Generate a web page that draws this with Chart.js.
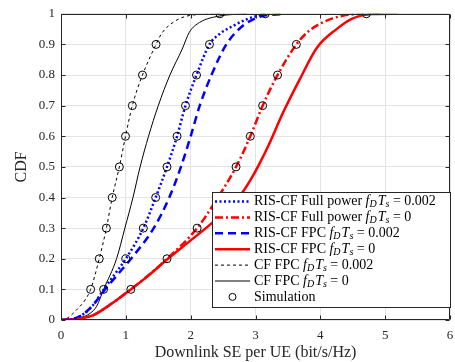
<!DOCTYPE html>
<html lang="en">
<head>
<meta charset="UTF-8" />
<title>Downlink SE CDF</title>
<script src="https://cdn.jsdelivr.net/npm/chart.js"></script>
<style>
  html, body { margin: 0; padding: 0; background: #fff; }
</style>
</head>
<body>
<canvas id="cdfChart" width="455" height="362"></canvas>
<script>
  // CDF levels where the simulated points were taken
  const cdfLevels = [0.1, 0.2, 0.3, 0.4, 0.5, 0.6, 0.7, 0.8, 0.9, 1.0];

  // analytical curves: SE values (x) and CDF values (y)
  const risFull002X = [0, 0.2, 0.35, 0.5, 0.66, 0.83, 1.0, 1.27, 1.46, 1.635, 1.79, 1.92, 2.09, 2.29, 2.45, 2.65, 2.86, 3.15];
  const risFull002Y = [0, 0.004, 0.02, 0.05, 0.1, 0.15, 0.2, 0.3, 0.4, 0.5, 0.6, 0.7, 0.8, 0.9, 0.935, 0.96, 0.982, 1.0];

  const risFull0X = [0, 0.25, 0.5, 0.75, 1.077, 1.32, 1.635, 2.1, 2.42, 2.7, 2.92, 3.11, 3.34, 3.63, 3.83, 4.19, 4.71, 4.95];
  const risFull0Y = [0, 0.003, 0.016, 0.049, 0.1, 0.141, 0.2, 0.3, 0.4, 0.5, 0.6, 0.7, 0.8, 0.9, 0.945, 0.985, 1.0, 1.0];

  const risFpc002X = [0, 0.2, 0.35, 0.5, 0.68, 0.9, 1.08, 1.43, 1.67, 1.85, 2.0, 2.14, 2.32, 2.55, 2.8, 3.06, 3.45];
  const risFpc002Y = [0, 0.004, 0.02, 0.05, 0.1, 0.155, 0.2, 0.3, 0.4, 0.5, 0.6, 0.7, 0.8, 0.9, 0.96, 0.99, 1.0];

  const risFpc0X = [0, 0.25, 0.5, 0.75, 1.077, 1.32, 1.65, 2.0, 2.29, 2.55, 2.8, 2.93, 3.06, 3.2, 3.42, 3.68, 3.95, 4.25, 4.5, 4.8, 5.19];
  const risFpc0Y = [0, 0.003, 0.016, 0.049, 0.1, 0.14, 0.2, 0.26, 0.31, 0.36, 0.417, 0.46, 0.51, 0.57, 0.675, 0.785, 0.89, 0.95, 0.985, 0.999, 1.0];

  const cfFpc002X = [0, 0.09, 0.24, 0.37, 0.457, 0.59, 0.7, 0.79, 0.9, 0.995, 1.1, 1.257, 1.466, 1.55, 1.75, 2.0, 2.45];
  const cfFpc002Y = [0, 0.005, 0.033, 0.065, 0.1, 0.2, 0.3, 0.4, 0.5, 0.6, 0.7, 0.8, 0.9, 0.935, 0.975, 0.995, 1.0];

  const cfFpc0X = [0, 0.3, 0.45, 0.55, 0.657, 0.857, 0.985, 1.11, 1.22, 1.35, 1.5, 1.68, 1.87, 1.98, 2.14, 2.45, 2.86];
  const cfFpc0Y = [0, 0.008, 0.022, 0.045, 0.1, 0.2, 0.3, 0.4, 0.5, 0.6, 0.7, 0.8, 0.885, 0.94, 0.972, 0.993, 1.0];

  // Monte-Carlo SE values at each CDF level
  const simCfFpc002 = [0.457, 0.59, 0.70, 0.79, 0.90, 0.995, 1.10, 1.257, 1.466, 2.45];
  const simRisFull002 = [0.657, 1.0, 1.27, 1.46, 1.635, 1.79, 1.92, 2.09, 2.29, 3.15];
  const simRisFull0 = [1.077, 1.635, 2.10, 2.42, 2.70, 2.92, 3.11, 3.34, 3.63, 4.71];

  const xTicks = [0, 1, 2, 3, 4, 5, 6];
  const yTicks = [0, 0.1, 0.2, 0.3, 0.4, 0.5, 0.6, 0.7, 0.8, 0.9, 1];

  const legendNames = ['RIS-CF Full power', 'RIS-CF Full power', 'RIS-CF FPC', 'RIS-CF FPC', 'CF FPC', 'CF FPC', 'Simulation'];
  const legendParams = ['0.002', '0', '0.002', '0', '0.002', '0', null];

  const SERIF = "'Liberation Serif', 'Times New Roman', serif";
  const AXIS = '#262626';

  const pts = (xs, ys) => xs.map((x, i) => ({ x, y: ys[i] }));

  function curve(xs, ys, color, width, dash) {
    return {
      data: pts(xs, ys),
      showLine: true,
      borderColor: color,
      borderWidth: width,
      borderDash: dash,
      pointRadius: 0,
      cubicInterpolationMode: 'monotone',
      fill: false,
      order: 1
    };
  }

  const simPoints = []
    .concat(pts(simCfFpc002, cdfLevels))
    .concat(pts(simRisFull002, cdfLevels))
    .concat(pts(simRisFull0, cdfLevels));

  const datasets = [
    curve(risFull002X, risFull002Y, '#0000ff', 2.5, [2, 2.5]),
    curve(risFull0X, risFull0Y, '#ff0000', 2.5, [8, 3, 2, 3]),
    curve(risFpc002X, risFpc002Y, '#0000ff', 2.5, [8, 5]),
    curve(risFpc0X, risFpc0Y, '#ff0000', 2.5, []),
    curve(cfFpc002X, cfFpc002Y, '#000000', 1, [3, 3]),
    curve(cfFpc0X, cfFpc0Y, '#000000', 1, []),
    {
      data: simPoints,
      showLine: false,
      pointStyle: 'circle',
      pointRadius: 4,
      pointBorderColor: '#000000',
      pointBorderWidth: 1,
      pointBackgroundColor: 'rgba(0,0,0,0)',
      borderColor: '#000000',
      order: 0
    }
  ];

  // box and inward ticks on all four sides
  const framePlugin = {
    id: 'frame',
    afterDatasetsDraw(chart) {
      const { ctx, chartArea: a, scales: { x, y } } = chart;
      const L = Math.round(a.left) + 0.5, R = Math.round(a.right) - 0.5;
      const T = Math.round(a.top) + 0.5, B = Math.round(a.bottom) - 0.5;
      ctx.save();
      ctx.strokeStyle = AXIS;
      ctx.lineWidth = 1;
      ctx.beginPath();
      ctx.rect(L, T, R - L, B - T);
      xTicks.forEach(v => {
        const px = Math.round(x.getPixelForValue(v)) + 0.5;
        ctx.moveTo(px, B); ctx.lineTo(px, B - 4);
        ctx.moveTo(px, T); ctx.lineTo(px, T + 4);
      });
      yTicks.forEach(v => {
        const py = Math.round(y.getPixelForValue(v)) + 0.5;
        ctx.moveTo(L, py); ctx.lineTo(L + 4, py);
        ctx.moveTo(R, py); ctx.lineTo(R - 4, py);
      });
      ctx.stroke();
      ctx.restore();
    }
  };

  // legend with the f_D T_s math text
  const legendPlugin = {
    id: 'mathLegend',
    afterDraw(chart) {
      const { ctx } = chart;
      const box = { left: 212.5, top: 192.5, right: 450.5, bottom: 307.5 };
      const rowH = 15.9, firstRow = 201.5;
      ctx.save();
      ctx.fillStyle = '#ffffff';
      ctx.fillRect(box.left, box.top, box.right - box.left, box.bottom - box.top);
      ctx.strokeStyle = AXIS;
      ctx.lineWidth = 1;
      ctx.strokeRect(box.left, box.top, box.right - box.left, box.bottom - box.top);

      chart.data.datasets.forEach((ds, i) => {
        const cy = firstRow + i * rowH;
        if (ds.showLine) {
          ctx.beginPath();
          ctx.strokeStyle = ds.borderColor;
          ctx.lineWidth = ds.borderWidth;
          ctx.setLineDash(ds.borderDash);
          ctx.moveTo(215, cy);
          ctx.lineTo(250, cy);
          ctx.stroke();
          ctx.setLineDash([]);
        } else {
          ctx.beginPath();
          ctx.strokeStyle = '#000000';
          ctx.lineWidth = 1;
          ctx.arc(232.5, cy, 3.5, 0, Math.PI * 2);
          ctx.stroke();
        }

        ctx.fillStyle = '#000000';
        ctx.textBaseline = 'middle';
        ctx.textAlign = 'left';
        let tx = 254;
        const put = (s, font, dy) => {
          ctx.font = font;
          ctx.fillText(s, tx, cy + dy);
          tx += ctx.measureText(s).width;
        };
        const rm = '14px ' + SERIF, it = 'italic 14px ' + SERIF, sub = 'italic 10px ' + SERIF;
        put(legendNames[i] + ' ', rm, 0);
        if (legendParams[i] !== null) {
          put('f', it, 0);
          put('D', sub, 3);
          tx += 1;
          put('T', it, 0);
          put('s', sub, 3);
          put(' = ' + legendParams[i], rm, 0);
        }
      });
      ctx.restore();
    }
  };

  new Chart(document.getElementById('cdfChart'), {
    type: 'scatter',
    data: { datasets },
    options: {
      responsive: false,
      animation: false,
      events: [],
      layout: { padding: { top: 13, right: 4, left: 0, bottom: 0 } },
      plugins: { legend: { display: false }, tooltip: { enabled: false } },
      scales: {
        x: {
          type: 'linear',
          min: 0,
          max: 6,
          afterBuildTicks: s => { s.ticks = xTicks.map(v => ({ value: v })); },
          afterFit: s => { s.height = 42; s.paddingLeft = 0; s.paddingRight = 0; },
          grid: { color: '#e4e4e4', lineWidth: 1, drawTicks: false },
          border: { display: false },
          ticks: { color: AXIS, padding: 8, font: { family: SERIF, size: 13 }, maxRotation: 0 },
          title: {
            display: true,
            text: 'Downlink SE per UE (bit/s/Hz)',
            color: AXIS,
            font: { family: SERIF, size: 16 },
            padding: { top: 0, bottom: 0 }
          }
        },
        y: {
          type: 'linear',
          min: 0,
          max: 1,
          afterBuildTicks: s => { s.ticks = yTicks.map(v => ({ value: v })); },
          afterFit: s => { s.width = 61; },
          grid: { color: '#e4e4e4', lineWidth: 1, drawTicks: false },
          border: { display: false },
          ticks: {
            color: AXIS,
            padding: 6,
            font: { family: SERIF, size: 13 },
            callback: v => (v === 0 || v === 1) ? String(v) : v.toFixed(1)
          },
          title: {
            display: true,
            text: 'CDF',
            color: AXIS,
            font: { family: SERIF, size: 16 },
            padding: { top: 12, bottom: 0 }
          }
        }
      }
    },
    plugins: [framePlugin, legendPlugin]
  });
</script>
</body>
</html>
